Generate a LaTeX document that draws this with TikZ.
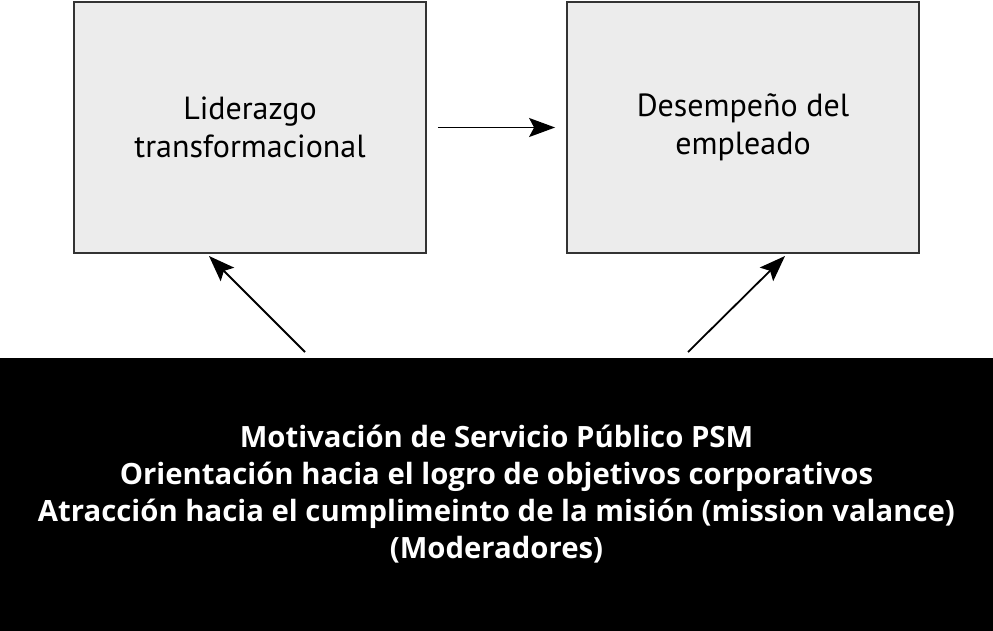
\documentclass[tikz,border=0pt]{standalone}
\usepackage{fontspec}
\setmainfont{PT Sans}
\newfontfamily\modfont{Open Sans}
\usepackage{tikz}
\usetikzlibrary{arrows.meta,calc,positioning}
\definecolor{boxgray}{HTML}{ECECEC}
\definecolor{boxline}{HTML}{333333}

\begin{document}
\begin{tikzpicture}[x=1pt,y=-1pt,
  varbox/.style={draw=boxline,line width=1.8pt,fill=boxgray,minimum width=352pt,minimum height=251pt,
                 align=center,font=\fontsize{32}{38}\selectfont},
  modbox/.style={fill=black,text=white,minimum width=993pt,minimum height=273pt,inner sep=0pt,
                 align=center,font=\modfont\bfseries\fontsize{29.3}{37}\selectfont},
  flecha/.style={line width=1.8pt,-{Stealth[length=26pt,width=19pt,inset=5pt]}}]
\useasboundingbox (0,0) rectangle (993,630);
% variables
\node[varbox] (lider) at (250,127.5) {Liderazgo\\transformacional};
\node[varbox] (desem) at (743,127.5) {Desempe\~no del\\empleado};
% moderadores
\node[modbox] (mod) at (496.5,494) {Motivaci\'on de Servicio P\'ublico PSM\\
  Orientaci\'on hacia el logro de objetivos corporativos\\
  Atracci\'on hacia el cumplimeinto de la misi\'on (mission valance)\\
  (Moderadores)};
\coordinate (mA) at (305,352);
\coordinate (mB) at (688,352);
\coordinate (tA) at (209,256);
\coordinate (tB) at (785,256);
\draw[flecha,shorten <=11pt,shorten >=11pt] (lider.east) -- (desem.west);
\draw[flecha] (mA) -- (tA);
\draw[flecha] (mB) -- (tB);
\end{tikzpicture}
\end{document}
